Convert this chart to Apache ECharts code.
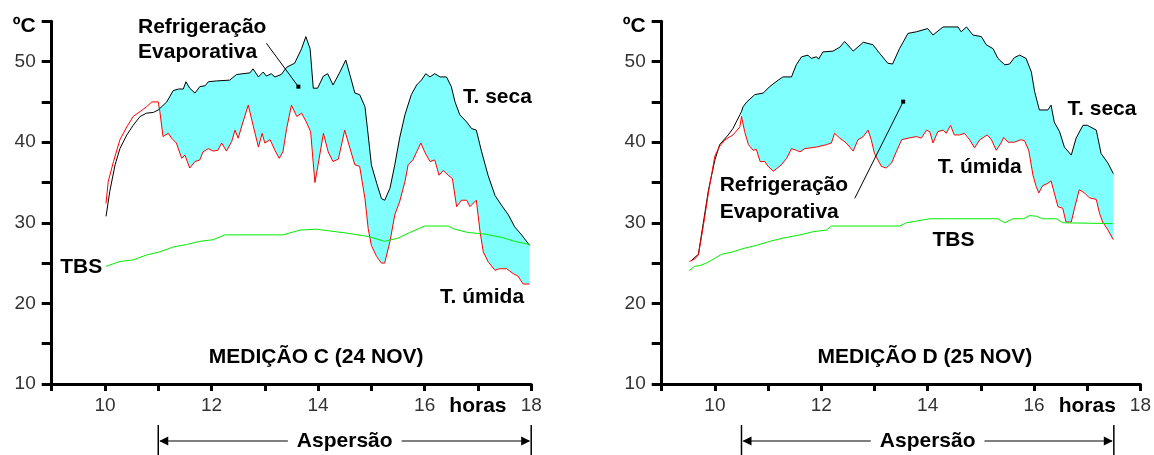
<!DOCTYPE html>
<html><head><meta charset="utf-8">
<script src="https://cdn.jsdelivr.net/npm/echarts@6/dist/echarts.min.js"></script>
<style>html,body{margin:0;padding:0;background:#fff}#c{width:1154px;height:455px}</style>
</head><body><div id="c"></div>
<script>
// ---------- DATA (hours, °C) ----------
// Medição C (24 NOV)
const tSecaC  = [10.02,10.09,10.19,10.28,10.41,10.53,10.66,10.78,10.91,11.0,11.16,11.28,11.38,11.47,11.52,11.59,11.69,11.78,11.88,11.94,12.09,12.34,12.47,12.72,12.78,12.88,12.97,13.03,13.12,13.19,13.31,13.41,13.56,13.69,13.77,13.85,13.91,13.99,14.1,14.18,14.28,14.41,14.52,14.6,14.69,14.78,14.88,14.94,15.0,15.1,15.19,15.25,15.35,15.44,15.53,15.63,15.75,15.85,15.94,16.02,16.1,16.19,16.29,16.41,16.5,16.57,16.66,16.79,16.88,16.97,17.07,17.19,17.32,17.44,17.57,17.69,17.82,17.97];
const secaC   = [30.8,33.9,37.2,39.2,40.9,42.1,43.2,43.6,43.7,44.0,45.0,46.4,46.6,46.6,47.5,46.7,46.1,46.9,47.0,47.5,47.6,47.7,48.4,48.6,49.1,48.1,48.7,48.2,48.5,48.1,48.4,49.3,49.8,51.6,53.1,51.6,46.7,46.7,48.2,48.5,47.1,48.7,50.2,48.3,46.1,45.9,44.4,40.9,37.2,34.9,33.0,32.8,34.3,37.2,40.5,43.4,45.9,47.1,47.7,48.5,48.1,48.5,48.1,48.1,46.9,45.0,43.4,42.5,41.7,41.5,38.8,35.9,33.4,32.2,31.0,29.5,28.5,27.2];
const tUmidaC = [10.02,10.06,10.16,10.28,10.41,10.53,10.66,10.78,10.88,11.0,11.03,11.09,11.19,11.25,11.34,11.44,11.5,11.59,11.69,11.78,11.84,11.94,12.03,12.12,12.19,12.28,12.38,12.44,12.5,12.59,12.69,12.78,12.88,12.95,13.0,13.1,13.19,13.27,13.34,13.41,13.5,13.6,13.69,13.78,13.86,13.94,14.0,14.1,14.19,14.28,14.38,14.5,14.6,14.69,14.78,14.88,14.94,15.0,15.1,15.19,15.25,15.35,15.44,15.53,15.63,15.69,15.78,15.85,15.93,16.0,16.1,16.19,16.27,16.35,16.44,16.52,16.6,16.69,16.79,16.85,16.97,17.04,17.1,17.19,17.32,17.4,17.54,17.66,17.75,17.85,17.97];
const umidaC  = [32.4,35.1,37.6,40.3,41.9,43.2,43.8,44.4,45.0,45.0,43.8,40.7,41.1,40.5,39.9,38.0,38.4,36.8,37.6,37.8,38.8,39.2,38.9,39.0,39.9,38.9,40.1,41.5,40.5,42.5,44.6,42.1,39.4,41.1,39.9,40.3,39.0,38.0,38.8,41.7,44.6,43.2,43.6,42.5,41.3,35.0,37.2,41.1,38.8,37.6,37.9,41.5,39.2,37.2,37.0,33.0,29.3,27.2,25.8,25.0,25.0,27.7,31.0,32.6,35.1,37.2,37.8,38.8,39.9,38.8,37.6,37.8,35.9,36.5,35.9,35.5,32.0,32.8,32.8,32.0,32.8,28.9,26.4,25.2,24.1,24.3,24.3,23.7,23.4,22.4,22.4];
const tTbsC   = [10.02,10.28,10.53,10.78,11.03,11.28,11.53,11.78,12.03,12.25,13.34,13.66,13.97,14.56,14.94,15.25,15.5,15.69,16.0,16.44,16.57,16.81,17.13,17.44,17.69,17.97];
const tbsC    = [24.6,25.2,25.4,26.0,26.4,27.0,27.3,27.7,27.9,28.5,28.5,29.1,29.2,28.7,28.3,27.7,28.1,28.7,29.6,29.6,29.2,28.8,28.6,28.2,27.7,27.3];
const sprayC  = [11.0, 18.0];

// Medição D (25 NOV)
const tSecaD  = [9.57,9.69,9.78,9.88,10.0,10.09,10.25,10.34,10.47,10.5,10.53,10.6,10.75,10.91,11.03,11.19,11.28,11.44,11.53,11.63,11.75,11.81,11.91,11.95,12.03,12.22,12.35,12.44,12.6,12.79,12.97,13.1,13.25,13.34,13.47,13.63,13.79,14.0,14.1,14.29,14.57,14.63,14.73,14.85,15.01,15.1,15.23,15.32,15.45,15.54,15.63,15.73,15.85,15.95,16.01,16.1,16.26,16.32,16.38,16.48,16.57,16.7,16.79,16.92,17.0,17.17,17.26,17.39,17.49];
const secaD   = [25.4,26.1,29.9,34.1,37.8,39.7,40.9,41.7,43.4,43.8,44.4,45.0,45.9,46.1,46.9,47.7,48.1,48.1,49.6,50.6,50.8,50.4,50.6,50.3,51.2,51.3,51.8,52.5,51.3,52.4,52.1,51.0,49.8,49.7,51.6,53.5,53.7,54.1,53.3,54.3,54.3,53.7,54.3,53.3,53.1,52.1,51.6,50.4,49.6,49.7,50.5,50.8,50.4,48.7,46.3,44.0,44.0,44.6,42.5,41.3,39.4,38.4,40.5,42.1,42.1,41.5,38.6,37.4,36.1];
const tUmidaD = [9.52,9.62,9.69,9.78,9.88,10.0,10.09,10.19,10.34,10.47,10.5,10.56,10.63,10.72,10.78,10.85,10.94,11.0,11.1,11.25,11.35,11.44,11.53,11.6,11.69,11.91,12.1,12.19,12.25,12.35,12.47,12.6,12.69,12.79,12.88,12.94,13.0,13.13,13.22,13.32,13.41,13.51,13.63,13.79,13.88,13.98,14.04,14.1,14.19,14.29,14.35,14.43,14.5,14.6,14.69,14.79,14.88,14.98,15.12,15.2,15.29,15.38,15.43,15.51,15.63,15.75,15.82,15.9,15.98,16.04,16.09,16.16,16.26,16.32,16.38,16.45,16.54,16.6,16.7,16.76,16.85,16.95,17.04,17.17,17.23,17.29,17.39,17.49];
const umidaD  = [25.2,25.5,26.0,29.5,33.8,38.3,39.5,40.3,40.9,41.9,43.2,41.3,39.7,39.0,39.1,37.6,37.6,37.0,36.4,37.2,38.0,39.2,39.0,38.8,39.2,39.4,39.7,39.9,41.1,40.5,39.9,38.9,40.3,40.7,41.5,40.3,38.6,37.0,36.8,37.4,38.8,40.3,40.5,40.7,40.5,41.5,41.3,39.9,41.3,41.5,41.1,42.1,40.9,40.9,41.1,40.3,39.3,40.3,40.9,40.3,39.0,39.9,40.6,40.0,40.0,40.3,40.2,39.0,35.9,34.5,33.7,34.6,34.9,35.2,33.7,32.0,31.8,30.1,30.1,31.8,34.1,33.7,33.1,32.9,31.2,30.1,29.1,27.9];
const tTbsD   = [9.52,9.62,9.72,9.84,10.0,10.13,10.34,10.53,10.78,11.03,11.28,11.6,11.85,12.1,12.19,13.47,13.6,14.04,15.32,15.45,15.6,15.8,15.92,16.05,16.16,16.42,16.54,17.48];
const tbsD    = [24.1,24.6,24.7,25.0,25.6,26.1,26.4,26.8,27.2,27.7,28.1,28.5,28.9,29.1,29.6,29.6,30.0,30.5,30.5,30.0,30.5,30.5,30.9,30.8,30.5,30.5,30.0,29.9];
const sprayD  = [10.5, 17.5];

// axis ticks
const xMin = 9, xMax = 18, xStep = 1;
const yMin = 10, yMax = 55, yStep = 5;

// ---------- helpers ----------
function pairs(t, v) { return t.map((x, i) => [x, v[i]]); }
function hasFont(name) {
  const c = document.createElement('canvas').getContext('2d');
  const s = 'MEDIÇÃO Refrigeração 0123 wmWM';
  c.font = '24px monospace'; const a = c.measureText(s).width;
  c.font = "24px '" + name + "', monospace"; const b = c.measureText(s).width;
  return Math.abs(a - b) > 0.5;
}
const NARROW = hasFont('Liberation Sans Narrow');
const ANN_FAMILY = NARROW ? "'Liberation Sans Narrow', 'Liberation Sans', sans-serif" : "'Liberation Sans', Arial, sans-serif";
const ANN_SIZE = NARROW ? 25 : 21;
const ANN_FONT = 'bold ' + ANN_SIZE + 'px ' + ANN_FAMILY;
const TICK_FAMILY = "'Liberation Sans', Arial, sans-serif";

const panels = [
  { tS: tSecaC, s: secaC, tU: tUmidaC, u: umidaC, tT: tTbsC, b: tbsC, spray: sprayC, left: 51.7 },
  { tS: tSecaD, s: secaD, tU: tUmidaD, u: umidaD, tT: tTbsD, b: tbsD, spray: sprayD, left: 661.7 }
];

const grid = panels.map(p => ({ left: p.left, top: 21.3, width: 479.5, height: 362.7 }));
const xAxis = panels.map((p, i) => ({
  type: 'value', gridIndex: i, min: xMin, max: xMax, interval: xStep,
  axisLine: { onZero: false, lineStyle: { color: '#000', width: 3 } },
  axisTick: { length: 7, lineStyle: { color: '#000', width: 3 } },
  splitLine: { show: false },
  axisLabel: {
    margin: 12, color: '#333', fontFamily: TICK_FAMILY, fontSize: 19,
    formatter: v => v === 17 ? '{h|horas}' : ((v % 2 === 0 && v >= 10) ? String(v) : ''),
    rich: { h: { fontFamily: ANN_FAMILY, fontSize: ANN_SIZE, fontWeight: 'bold', color: '#000' } }
  }
}));
const yAxis = panels.map((p, i) => ({
  type: 'value', gridIndex: i, min: yMin, max: yMax, interval: yStep,
  axisLine: { show: true, onZero: false, lineStyle: { color: '#000', width: 3 } },
  axisTick: { show: true, length: 10, lineStyle: { color: '#000', width: 3 } },
  splitLine: { show: false },
  axisLabel: {
    margin: 16, color: '#333', fontFamily: TICK_FAMILY, fontSize: 19,
    formatter: v => v === yMax ? '{u|ºC}' : (v % 10 === 0 ? String(v) : ''),
    rich: { u: { fontFamily: TICK_FAMILY, fontSize: 21, fontWeight: 'bold', color: '#000', padding: [9, 0, 0, 0] } }
  }
}));

const series = [];
panels.forEach((p, i) => {
  const seca = pairs(p.tS, p.s).filter(d => d[0] >= p.spray[0]);
  const umida = pairs(p.tU, p.u).filter(d => d[0] >= p.spray[0]).reverse();
  const poly = seca.concat(umida);
  series.push({
    type: 'custom', xAxisIndex: i, yAxisIndex: i, silent: true, z: 1,
    data: [[14, 40]],
    renderItem: (params, api) => ({
      type: 'polygon', shape: { points: poly.map(d => api.coord(d)) },
      style: { fill: '#80ffff', stroke: null }
    })
  });
  series.push({ type: 'line', name: 'T. seca', xAxisIndex: i, yAxisIndex: i, data: pairs(p.tS, p.s), showSymbol: false, z: 3,
    lineStyle: { color: '#000', width: 1 }, itemStyle: { color: '#000' } });
  series.push({ type: 'line', name: 'T. úmida', xAxisIndex: i, yAxisIndex: i, data: pairs(p.tU, p.u), showSymbol: false, z: 4,
    lineStyle: { color: '#ff0000', width: 1 }, itemStyle: { color: '#ff0000' } });
  series.push({ type: 'line', name: 'TBS', xAxisIndex: i, yAxisIndex: i, data: pairs(p.tT, p.b), showSymbol: false, z: 5,
    lineStyle: { color: '#00ee00', width: 1 }, itemStyle: { color: '#00ee00' } });
});

const chart = echarts.init(document.getElementById('c'), null, { renderer: 'canvas' });
chart.setOption({ animation: false, backgroundColor: '#fff', grid, xAxis, yAxis, series });

// ---------- annotations (anchored in data units) ----------
const notes = [
  [ // C
    { t: 'Refrigeração', at: [10.62, 54.29] },
    { t: 'Evaporativa', at: [10.62, 51.19] },
    { t: 'T. seca', at: [16.72, 45.55] },
    { t: 'T. úmida', at: [16.29, 20.71] },
    { t: 'TBS', at: [9.16, 24.45] },
    { t: 'MEDIÇÃO C (24 NOV)', at: [11.95, 13.31] }
  ],
  [ // D
    { t: 'Refrigeração', at: [10.09, 34.69] },
    { t: 'Evaporativa', at: [10.09, 31.28] },
    { t: 'T. seca', at: [16.63, 44.14] },
    { t: 'T. úmida', at: [14.19, 36.86] },
    { t: 'TBS', at: [14.09, 27.87] },
    { t: 'MEDIÇÃO D (25 NOV)', at: [11.93, 13.31] }
  ]
];
const leaders = [
  { from: [13.03, 52.27], to: [13.63, 46.89] },
  { from: [12.63, 33.04], to: [13.54, 45.03] }
];

const measure = (() => { const c = document.createElement('canvas').getContext('2d'); c.font = ANN_FONT; return s => c.measureText(s).width; })();

const graphic = [];
panels.forEach((p, i) => {
  const px = d => chart.convertToPixel({ gridIndex: i }, d);
  notes[i].forEach(n => {
    const q = px(n.at);
    graphic.push({ type: 'text', x: q[0], y: q[1], z: 10,
      style: { text: n.t, font: ANN_FONT, fill: '#000', textAlign: 'left', align: 'left', textVerticalAlign: 'middle', verticalAlign: 'middle' } });
  });
  const a = px(leaders[i].from), b = px(leaders[i].to);
  graphic.push({ type: 'line', z: 10, shape: { x1: a[0], y1: a[1], x2: b[0], y2: b[1] }, style: { stroke: '#000', lineWidth: 1 } });
  graphic.push({ type: 'rect', z: 10, shape: { x: b[0] - 2, y: b[1] - 2, width: 4, height: 4 }, style: { fill: '#000' } });

  // Aspersão span arrow under the axis
  const axisY = px([xMin, yMin])[1];
  const yA = axisY + 57;
  const xl = px([p.spray[0], yMin])[0], xr = px([p.spray[1], yMin])[0];
  const xc = (xl + xr) / 2;
  const w = measure('Aspersão');
  const gap = 9;
  graphic.push({ type: 'line', z: 10, shape: { x1: xl, y1: axisY + 41, x2: xl, y2: axisY + 72 }, style: { stroke: '#000', lineWidth: 1.5 } });
  graphic.push({ type: 'line', z: 10, shape: { x1: xr, y1: axisY + 41, x2: xr, y2: axisY + 72 }, style: { stroke: '#000', lineWidth: 1.5 } });
  graphic.push({ type: 'line', z: 10, shape: { x1: xl + 2, y1: yA, x2: xc - w / 2 - gap, y2: yA }, style: { stroke: '#000', lineWidth: 1 } });
  graphic.push({ type: 'line', z: 10, shape: { x1: xc + w / 2 + gap, y1: yA, x2: xr - 2, y2: yA }, style: { stroke: '#000', lineWidth: 1 } });
  graphic.push({ type: 'polygon', z: 10, shape: { points: [[xl + 1, yA], [xl + 10, yA - 4.5], [xl + 10, yA + 4.5]] }, style: { fill: '#000' } });
  graphic.push({ type: 'polygon', z: 10, shape: { points: [[xr - 1, yA], [xr - 10, yA - 4.5], [xr - 10, yA + 4.5]] }, style: { fill: '#000' } });
  graphic.push({ type: 'text', x: xc, y: yA, z: 10,
    style: { text: 'Aspersão', font: ANN_FONT, fill: '#000', textAlign: 'center', align: 'center', textVerticalAlign: 'middle', verticalAlign: 'middle' } });
});
chart.setOption({ graphic });
</script></body></html>
